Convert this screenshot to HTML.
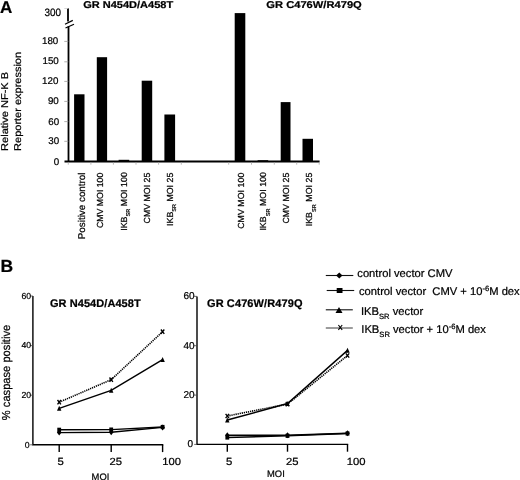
<!DOCTYPE html><html><head><meta charset="utf-8"><title>Figure</title>
<style>html,body{margin:0;padding:0;background:#fff;overflow:hidden}svg{display:block}text{font-family:"Liberation Sans", sans-serif;fill:#000;stroke:#000;stroke-width:0.22px;text-rendering:geometricPrecision}</style>
</head><body>
<svg width="520" height="480" viewBox="0 0 520 480">
<rect width="520" height="480" fill="#fff"/>
<text x="0" y="12.5" font-size="17" font-weight="bold" stroke="none">A</text>
<text x="83.2" y="7.8" font-size="9.9" font-weight="bold" stroke="none" textLength="90" lengthAdjust="spacingAndGlyphs">GR N454D/A458T</text>
<text x="266.3" y="7.9" font-size="9.9" font-weight="bold" stroke="none" textLength="95.5" lengthAdjust="spacingAndGlyphs">GR C476W/R479Q</text>
<g stroke="#000" stroke-width="1.8" fill="none">
<path d="M68 8.3V21.6"/>
<path d="M68.5 26.4V161.5"/>
<path d="M65 24.3L72.8 20.4" stroke-width="1.2"/>
<path d="M65.5 28L74 24.2" stroke-width="1.2"/>
<path d="M64.5 161.5H319.6" stroke-width="1.8"/>
</g>
<g stroke="#999" stroke-width="0.8">
<path d="M64.3 141.3H68.3"/>
<path d="M64.3 121.6H68.3"/>
<path d="M64.3 101.4H68.3"/>
<path d="M64.3 81.4H68.3"/>
<path d="M64.3 61.8H68.3"/>
<path d="M64.3 41.4H68.3"/>
<path d="M64.3 8.5H68.3" stroke="#ccc"/>
</g>
<g font-size="9.75" text-anchor="end">
<text x="59.2" y="164.5">0</text>
<text x="59.2" y="144.2">30</text>
<text x="59.2" y="124.6">60</text>
<text x="58.8" y="104.4">90</text>
<text x="58.4" y="84.1">120</text>
<text x="58.8" y="64.4">150</text>
<text x="58.3" y="44.1">180</text>
<text x="44.6" y="15.7" font-size="10.7" textLength="16.5" lengthAdjust="spacingAndGlyphs" text-anchor="start">300</text>
</g>
<g stroke="#aaa" stroke-width="0.8">
<path d="M68.3 162.4V164.7"/>
<path d="M90.9 162.4V164.7"/>
<path d="M113.4 162.4V164.7"/>
<path d="M136 162.4V164.7"/>
<path d="M158.6 162.4V164.7"/>
<path d="M181.3 162.4V164.7"/>
<path d="M228.7 162.4V164.7"/>
<path d="M251.5 162.4V164.7"/>
<path d="M274.3 162.4V164.7"/>
<path d="M296.7 162.4V164.7"/>
<path d="M319.2 162.4V164.7"/>
</g>
<g fill="#000">
<rect x="74.1" y="94.3" width="10.4" height="67.2"/>
<rect x="96.8" y="57.2" width="10.3" height="104.3"/>
<rect x="118.6" y="159.8" width="10.6" height="1.7"/>
<rect x="141.7" y="80.7" width="10.5" height="80.8"/>
<rect x="164.4" y="114.5" width="10.7" height="47.0"/>
<rect x="234.7" y="13.1" width="10.6" height="148.4"/>
<rect x="257.6" y="160.2" width="10.6" height="1.3"/>
<rect x="280.7" y="102.1" width="9.8" height="59.4"/>
<rect x="302.5" y="138.8" width="10.5" height="22.7"/>
</g>
<text transform="translate(7.6 150.9) rotate(-90)" font-size="9.9" textLength="79" lengthAdjust="spacingAndGlyphs">Relative NF-K B</text>
<text transform="translate(21.1 150.9) rotate(-90)" font-size="9.9" textLength="99" lengthAdjust="spacingAndGlyphs">Reporter expression</text>
<text transform="translate(85 239.2) rotate(-90)" font-size="9.8" textLength="66.7">Positive control</text>
<text transform="translate(102.6 228.1) rotate(-90)" font-size="8.8" textLength="55.5">CMV MOI 100</text>
<text transform="translate(126.8 230.8) rotate(-90)" font-size="8.8" textLength="58.7">IKB<tspan font-size="5.6" dy="3.2">SR</tspan><tspan dy="-3.2"> MOI 100</tspan></text>
<text transform="translate(149.8 223.39999999999998) rotate(-90)" font-size="8.8" textLength="50.7">CMV MOI 25</text>
<text transform="translate(172.8 225.89999999999998) rotate(-90)" font-size="8.8" textLength="53.2">IKB<tspan font-size="5.6" dy="3.2">SR</tspan><tspan dy="-3.2"> MOI 25</tspan></text>
<text transform="translate(244.1 228.8) rotate(-90)" font-size="8.8" textLength="56.2">CMV MOI 100</text>
<text transform="translate(266.3 230.6) rotate(-90)" font-size="8.8" textLength="58.6">IKB<tspan font-size="5.6" dy="3.2">SR</tspan><tspan dy="-3.2"> MOI 100</tspan></text>
<text transform="translate(289.3 223.6) rotate(-90)" font-size="8.8" textLength="51">CMV MOI 25</text>
<text transform="translate(312.4 226.3) rotate(-90)" font-size="8.8" textLength="53.7">IKB<tspan font-size="5.6" dy="3.2">SR</tspan><tspan dy="-3.2"> MOI 25</tspan></text>
<text x="0.5" y="271.9" font-size="17.5" font-weight="bold" stroke="none">B</text>
<text x="50" y="306.8" font-size="11" font-weight="bold" stroke="none" textLength="90.7">GR N454D/A458T</text>
<text x="207" y="306.5" font-size="11" font-weight="bold" stroke="none" textLength="95.5">GR C476W/R479Q</text>
<text transform="translate(9.6 420.2) rotate(-90)" font-size="11.6" textLength="95.4" lengthAdjust="spacingAndGlyphs">% caspase positive</text>
<g stroke="#000" stroke-width="1.4" fill="none">
<path d="M32.9 296V444.8H163.29999999999998"/>
<path d="M59.2 444.8V452.1"/>
<path d="M111.2 444.8V452.1"/>
<path d="M162.6 444.8V452.1"/>
</g>
<g stroke="#444" stroke-width="0.8">
<path d="M30.099999999999998 444.8H32.9"/>
<path d="M30.099999999999998 395.2H32.9"/>
<path d="M30.099999999999998 345.6H32.9"/>
<path d="M30.099999999999998 296.0H32.9"/>
</g>
<g font-size="8.7" text-anchor="end">
<text x="29.7" y="447.5">0</text>
<text x="31.2" y="397.9">20</text>
<text x="31.2" y="348.3">40</text>
<text x="31.2" y="298.7">60</text>
</g>
<g font-size="10.4">
<text x="57.6" y="465" textLength="6.3" lengthAdjust="spacingAndGlyphs">5</text>
<text x="109.4" y="465" textLength="12.5" lengthAdjust="spacingAndGlyphs">25</text>
<text x="162.2" y="464.8" textLength="18.8" lengthAdjust="spacingAndGlyphs">100</text>
<text x="91.6" y="480" font-size="9.4" textLength="17.8">MOI</text>
</g>
<path d="M59.2 432.6L111.2 432.2L162.6 427.4" stroke="#000" stroke-width="1.45" fill="none"/>
<path d="M56.9 432.6L59.2 429.6L61.5 432.6L59.2 435.6Z" fill="#000"/>
<path d="M108.9 432.2L111.2 429.2L113.5 432.2L111.2 435.2Z" fill="#000"/>
<path d="M160.3 427.4L162.6 424.4L164.9 427.4L162.6 430.4Z" fill="#000"/>
<path d="M59.2 429.8L111.2 429.6L162.6 427.0" stroke="#000" stroke-width="1.45" fill="none"/>
<rect x="57.3" y="427.7" width="3.8" height="4.2" fill="#000"/>
<rect x="109.3" y="427.5" width="3.8" height="4.2" fill="#000"/>
<rect x="160.7" y="424.9" width="3.8" height="4.2" fill="#000"/>
<path d="M59.2 408.4L111.2 390.4L162.6 359.6" stroke="#000" stroke-width="1.45" fill="none"/>
<path d="M57.0 410.8L59.2 405.8L61.4 410.8Z" fill="#000"/>
<path d="M109.0 392.8L111.2 387.8L113.4 392.8Z" fill="#000"/>
<path d="M160.4 362.0L162.6 357.0L164.8 362.0Z" fill="#000"/>
<path d="M59.2 402.2L111.2 379.7L162.6 331.7" stroke="#000" stroke-width="1.6" fill="none" stroke-dasharray="1.25 0.85"/>
<path d="M57.5 400.0L60.9 404.4M57.5 404.4L60.9 400.0" stroke="#000" stroke-width="1.35" fill="none"/>
<path d="M109.5 377.5L112.9 381.9M109.5 381.9L112.9 377.5" stroke="#000" stroke-width="1.35" fill="none"/>
<path d="M160.9 329.5L164.3 333.9M160.9 333.9L164.3 329.5" stroke="#000" stroke-width="1.35" fill="none"/>
<g stroke="#000" stroke-width="1.4" fill="none">
<path d="M197 296.4V444.4H348.2"/>
<path d="M227.3 444.4V451.7"/>
<path d="M287.5 444.4V451.7"/>
<path d="M347.5 444.4V451.7"/>
</g>
<g stroke="#444" stroke-width="0.8">
<path d="M194.2 444.4H197"/>
<path d="M194.2 395.1H197"/>
<path d="M194.2 345.7H197"/>
<path d="M194.2 296.4H197"/>
</g>
<g font-size="10" text-anchor="end">
<text x="193.0" y="447.3">0</text>
<text x="194.6" y="397.9">20</text>
<text x="194.6" y="348.6">40</text>
<text x="194.6" y="299.3">60</text>
</g>
<g font-size="10.4">
<text x="226" y="465.4" textLength="6.3" lengthAdjust="spacingAndGlyphs">5</text>
<text x="286.1" y="465.4" textLength="12.5" lengthAdjust="spacingAndGlyphs">25</text>
<text x="346.8" y="465.3" textLength="18.8" lengthAdjust="spacingAndGlyphs">100</text>
<text x="266.9" y="477" font-size="9.4" textLength="18">MOI</text>
</g>
<path d="M227.3 435.2L287.5 435.2L347.5 433.2" stroke="#000" stroke-width="1.45" fill="none"/>
<path d="M225.0 435.2L227.3 432.2L229.6 435.2L227.3 438.2Z" fill="#000"/>
<path d="M285.2 435.2L287.5 432.2L289.8 435.2L287.5 438.2Z" fill="#000"/>
<path d="M345.2 433.2L347.5 430.2L349.8 433.2L347.5 436.2Z" fill="#000"/>
<path d="M227.3 437.5L287.5 435.8L347.5 433.5" stroke="#000" stroke-width="1.45" fill="none"/>
<rect x="225.4" y="435.4" width="3.8" height="4.2" fill="#000"/>
<rect x="285.6" y="433.7" width="3.8" height="4.2" fill="#000"/>
<rect x="345.6" y="431.4" width="3.8" height="4.2" fill="#000"/>
<path d="M227.3 420.0L287.5 403.5L347.5 350.4" stroke="#000" stroke-width="1.45" fill="none"/>
<path d="M225.1 422.4L227.3 417.4L229.5 422.4Z" fill="#000"/>
<path d="M285.3 405.9L287.5 400.9L289.7 405.9Z" fill="#000"/>
<path d="M345.3 352.8L347.5 347.8L349.7 352.8Z" fill="#000"/>
<path d="M227.3 416.0L287.5 404.1L347.5 355.5" stroke="#000" stroke-width="1.6" fill="none" stroke-dasharray="1.25 0.85"/>
<path d="M225.6 413.8L229.0 418.2M225.6 418.2L229.0 413.8" stroke="#000" stroke-width="1.35" fill="none"/>
<path d="M285.8 401.9L289.2 406.3M285.8 406.3L289.2 401.9" stroke="#000" stroke-width="1.35" fill="none"/>
<path d="M345.8 353.3L349.2 357.7M345.8 357.7L349.2 353.3" stroke="#000" stroke-width="1.35" fill="none"/>
<path d="M325.8 275.5H353.3" stroke="#111" stroke-width="1.1"/>
<path d="M336.1 275.5L339.3 272.5L342.5 275.5L339.3 278.5Z" fill="#000"/>
<text x="357.3" y="276.7" font-size="11.2">control vector CMV</text>
<path d="M326.7 290.5H354.2" stroke="#111" stroke-width="1.1"/>
<rect x="336.70000000000005" y="288.0" width="5.8" height="5" fill="#000"/>
<text x="359" y="295.1" font-size="11.2">control vector&#160;&#160;CMV + 10<tspan font-size="7.6" dy="-4.2">-6</tspan><tspan dy="4.2">M dex</tspan></text>
<path d="M325.8 309.8H352.8" stroke="#111" stroke-width="1.1"/>
<path d="M335.5 313.0L339 307.0L342.5 313.0Z" fill="#000"/>
<text x="361" y="315.2" font-size="11.2">IKB<tspan font-size="7.6" dy="3.3">SR</tspan><tspan dy="-3.3"> vector</tspan></text>
<path d="M325.8 328H352.8" stroke="#222" stroke-width="0.9"/>
<path d="M338.4 325.0L342.2 329.8M338.4 329.8L342.2 325.0" stroke="#000" stroke-width="1.1" fill="none"/>
<text x="361.3" y="333.4" font-size="11.2">IKB<tspan font-size="7.6" dy="3.3">SR</tspan><tspan dy="-3.3"> vector + 10</tspan><tspan font-size="7.6" dy="-4.2">-6</tspan><tspan dy="4.2">M dex</tspan></text>
</svg></body></html>
